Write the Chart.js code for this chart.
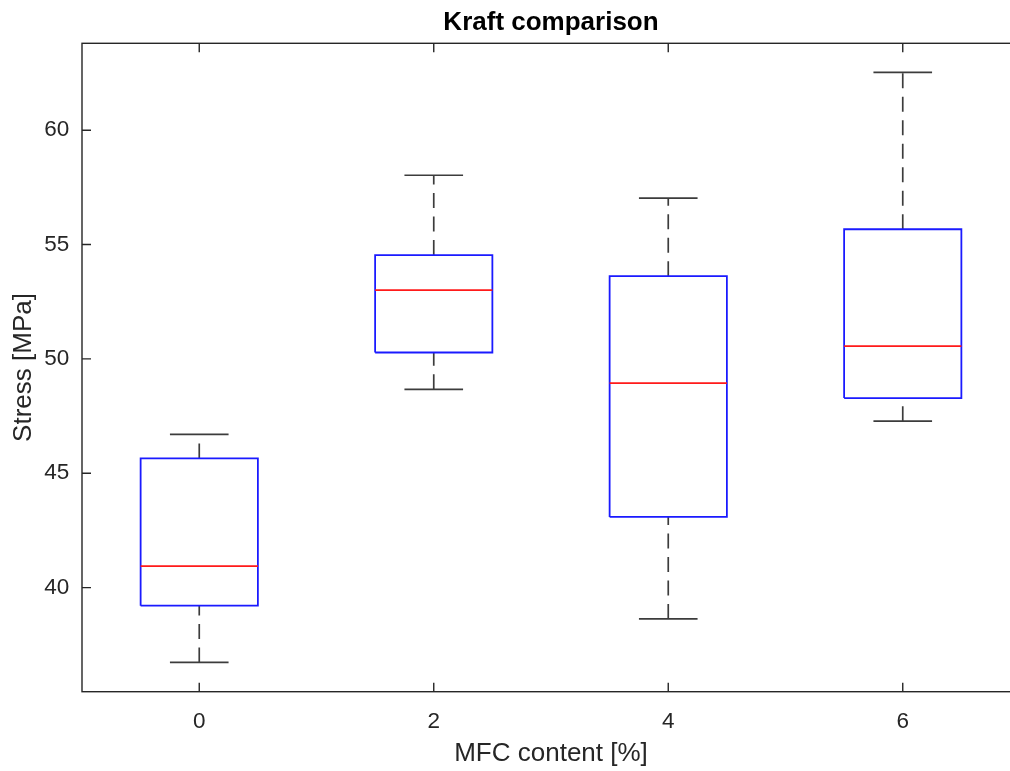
<!DOCTYPE html>
<html>
<head>
<meta charset="utf-8">
<title>Kraft comparison</title>
<script src="https://cdn.jsdelivr.net/npm/chart.js@4.4.1/dist/chart.umd.min.js"></script>
<style>
  html, body { margin: 0; padding: 0; background: #fff; overflow: hidden; }
  #wrap { width: 1020px; height: 771px; }
</style>
</head>
<body>
<div id="wrap"><canvas id="chart" width="1020" height="771"></canvas></div>
<script>
// Tensile stress per MFC content (box plot statistics)
const groups      = [0, 2, 4, 6];
const whiskerLow  = [36.73, 48.67, 38.63, 47.28];
const q1          = [39.21, 50.28, 43.09, 48.29];
const medians     = [40.94, 53.01, 48.94, 50.56];
const q3          = [45.65, 54.54, 53.62, 55.67];
const whiskerHigh = [46.70, 58.03, 57.03, 62.53];

const xTicks = [0, 2, 4, 6];
const yTicks = [40, 45, 50, 55, 60];

const FONT = '"Liberation Sans", Arial, Helvetica, sans-serif';
const AXIS_COLOR = '#262626';
const WHISKER_COLOR = '#3c3c3c';
const BOX_HALF = 0.5;   // half box width in x units
const CAP_HALF = 0.25;  // half whisker-cap width in x units

// Box outlines, one closed rectangle per group, separated by gaps
const boxPoints = [];
groups.forEach((g, i) => {
  boxPoints.push(
    { x: g - BOX_HALF, y: q1[i] }, { x: g + BOX_HALF, y: q1[i] },
    { x: g + BOX_HALF, y: q3[i] }, { x: g - BOX_HALF, y: q3[i] },
    { x: g - BOX_HALF, y: q1[i] }, { x: g, y: null }
  );
});

const medianPoints = [];
groups.forEach((g, i) => {
  medianPoints.push({ x: g - BOX_HALF, y: medians[i] }, { x: g + BOX_HALF, y: medians[i] }, { x: g, y: null });
});

const capPoints = [];
groups.forEach((g, i) => {
  capPoints.push({ x: g - CAP_HALF, y: whiskerHigh[i] }, { x: g + CAP_HALF, y: whiskerHigh[i] }, { x: g, y: null });
  capPoints.push({ x: g - CAP_HALF, y: whiskerLow[i] }, { x: g + CAP_HALF, y: whiskerLow[i] }, { x: g, y: null });
});

const lineBase = { showLine: true, pointRadius: 0, tension: 0, fill: false, borderJoinStyle: 'miter' };

const datasets = [
  Object.assign({ label: 'median', data: medianPoints, borderColor: '#ff1a1a', borderWidth: 1.6, order: 0 }, lineBase),
  Object.assign({ label: 'box', data: boxPoints, borderColor: '#1a1aff', borderWidth: 1.8, order: 1 }, lineBase),
  Object.assign({ label: 'caps', data: capPoints, borderColor: WHISKER_COLOR, borderWidth: 1.7, order: 2 }, lineBase)
];

// Dashed whiskers, each drawn from the lower value to the higher one
groups.forEach((g, i) => {
  datasets.push(Object.assign({ label: 'upper whisker ' + g, data: [{ x: g, y: q3[i] }, { x: g, y: whiskerHigh[i] }],
    borderColor: WHISKER_COLOR, borderWidth: 1.7, borderDash: [15, 8.5], order: 3 }, lineBase));
  datasets.push(Object.assign({ label: 'lower whisker ' + g, data: [{ x: g, y: whiskerLow[i] }, { x: g, y: q1[i] }],
    borderColor: WHISKER_COLOR, borderWidth: 1.7, borderDash: [15, 8.5], order: 3 }, lineBase));
});

// Axes frame with inward tick marks on every side
const framePlugin = {
  id: 'frame',
  afterDatasetsDraw(chart) {
    const { ctx, chartArea: a, scales: { x, y } } = chart;
    const L = 9;
    ctx.save();
    ctx.strokeStyle = AXIS_COLOR;
    ctx.lineWidth = 1.4;
    ctx.strokeRect(a.left, a.top, a.right - a.left, a.bottom - a.top);
    ctx.beginPath();
    x.ticks.forEach(t => {
      const px = x.getPixelForValue(t.value);
      ctx.moveTo(px, a.bottom); ctx.lineTo(px, a.bottom - L);
      ctx.moveTo(px, a.top); ctx.lineTo(px, a.top + L);
    });
    y.ticks.forEach(t => {
      const py = y.getPixelForValue(t.value);
      ctx.moveTo(a.left, py); ctx.lineTo(a.left + L, py);
      ctx.moveTo(a.right, py); ctx.lineTo(a.right - L, py);
    });
    ctx.stroke();
    ctx.restore();
  }
};

new Chart(document.getElementById('chart'), {
  type: 'scatter',
  data: { datasets },
  plugins: [framePlugin],
  options: {
    responsive: false,
    devicePixelRatio: 1,
    animation: false,
    events: [],
    layout: { padding: 0 },
    plugins: {
      legend: { display: false },
      tooltip: { enabled: false },
      title: {
        display: true,
        text: 'Kraft comparison',
        fullSize: false,
        color: '#000000',
        font: { family: FONT, size: 26, weight: 'bold' },
        padding: { top: 7.4, bottom: 4.7 }
      }
    },
    scales: {
      x: {
        type: 'linear',
        min: -1,
        max: 7,
        afterBuildTicks: s => { s.ticks = xTicks.map(v => ({ value: v })); },
        afterFit: s => { s.height = 79.3; },
        grid: { display: false, drawTicks: false },
        border: { display: false },
        ticks: { color: AXIS_COLOR, padding: 16.5, font: { family: FONT, size: 22.5 } },
        title: {
          display: true,
          text: 'MFC content [%]',
          color: AXIS_COLOR,
          font: { family: FONT, size: 26 },
          padding: { top: 0, bottom: 1.4 }
        }
      },
      y: {
        type: 'linear',
        min: 35.45,
        max: 63.8,
        afterBuildTicks: s => { s.ticks = yTicks.map(v => ({ value: v })); },
        afterFit: s => { s.width = 82; },
        grid: { display: false, drawTicks: false },
        border: { display: false },
        ticks: { color: AXIS_COLOR, padding: 12.7, font: { family: FONT, size: 22.5 } },
        title: {
          display: true,
          text: 'Stress [MPa]',
          color: AXIS_COLOR,
          font: { family: FONT, size: 26 },
          padding: { top: 8.4, bottom: 0 }
        }
      }
    }
  }
});
</script>
</body>
</html>
